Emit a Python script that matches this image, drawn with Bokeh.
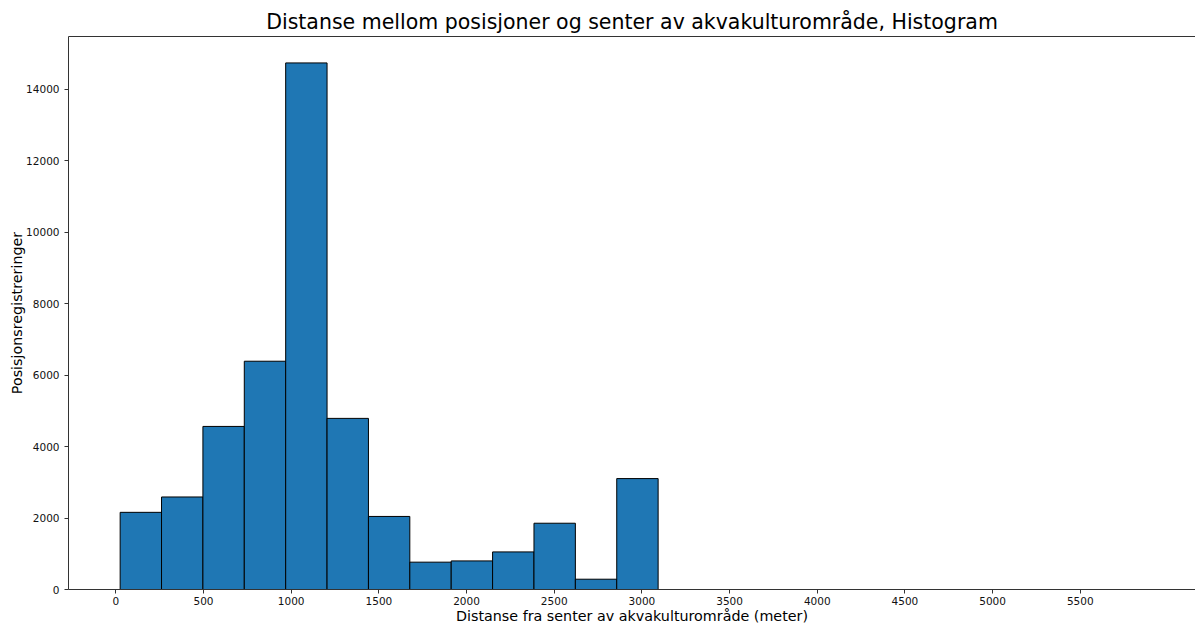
from bokeh.plotting import figure
from bokeh.models import FixedTicker, LinearAxis, Range1d
from bokeh.embed import file_html
from bokeh.resources import INLINE

# Data
bin_start = 24.5
bin_width = 236.0
counts = [2160, 2590, 4565, 6390, 14740, 4790, 2045, 765, 800, 1052, 1855, 288, 3105]
x_ticks = [0, 500, 1000, 1500, 2000, 2500, 3000, 3500, 4000, 4500, 5000, 5500]
y_ticks = [0, 2000, 4000, 6000, 8000, 10000, 12000, 14000]

left = [bin_start + i * bin_width for i in range(len(counts))]
right = [l + bin_width for l in left]
bottom = [0] * len(counts)

FONT = "DejaVu Sans"

p = figure(width=1195, height=626, output_backend="svg", toolbar_location=None,
           x_range=Range1d(-270, 6157), y_range=Range1d(0, 15480),
           min_border_left=68, min_border_right=0, min_border_top=36, min_border_bottom=36,
           title="Distanse mellom posisjoner og senter av akvakulturområde, Histogram")

p.quad(left=left, right=right, top=counts, bottom=bottom,
       fill_color="#1f77b4", line_color="black", line_width=1)

p.title.text_font = FONT
p.title.text_font_size = "20.5px"
p.title.text_font_style = "normal"
p.title.align = "center"
p.title.text_color = "black"
p.title.standoff = 6

p.outline_line_color = None
p.grid.visible = False

for ax in (p.xaxis[0], p.yaxis[0]):
    ax.major_label_text_font = FONT
    ax.major_label_text_font_size = "10.5px"
    ax.major_label_text_color = "#111111"
    ax.axis_label_text_font = FONT
    ax.axis_label_text_font_size = "14.3px"
    ax.axis_label_text_font_style = "normal"
    ax.axis_label_text_color = "black"
    ax.axis_line_color = "#333333"
    ax.major_tick_line_color = "#333333"
    ax.major_tick_out = 4
    ax.major_tick_in = 0
    ax.minor_tick_line_color = None

p.xaxis[0].ticker = FixedTicker(ticks=x_ticks)
p.yaxis[0].ticker = FixedTicker(ticks=y_ticks)
p.xaxis[0].axis_label = "Distanse fra senter av akvakulturområde (meter)"
p.yaxis[0].axis_label = "Posisjonsregistreringer"
p.xaxis[0].major_label_standoff = 3
p.xaxis[0].axis_label_standoff = 0
p.yaxis[0].axis_label_standoff = -2

top_axis = LinearAxis(major_tick_line_color=None, minor_tick_line_color=None,
                      major_label_text_font_size="0px", axis_line_color="#333333")
top_axis.ticker = FixedTicker(ticks=[])
p.add_layout(top_axis, "above")

open("out.html", "w").write(file_html(p, INLINE))
